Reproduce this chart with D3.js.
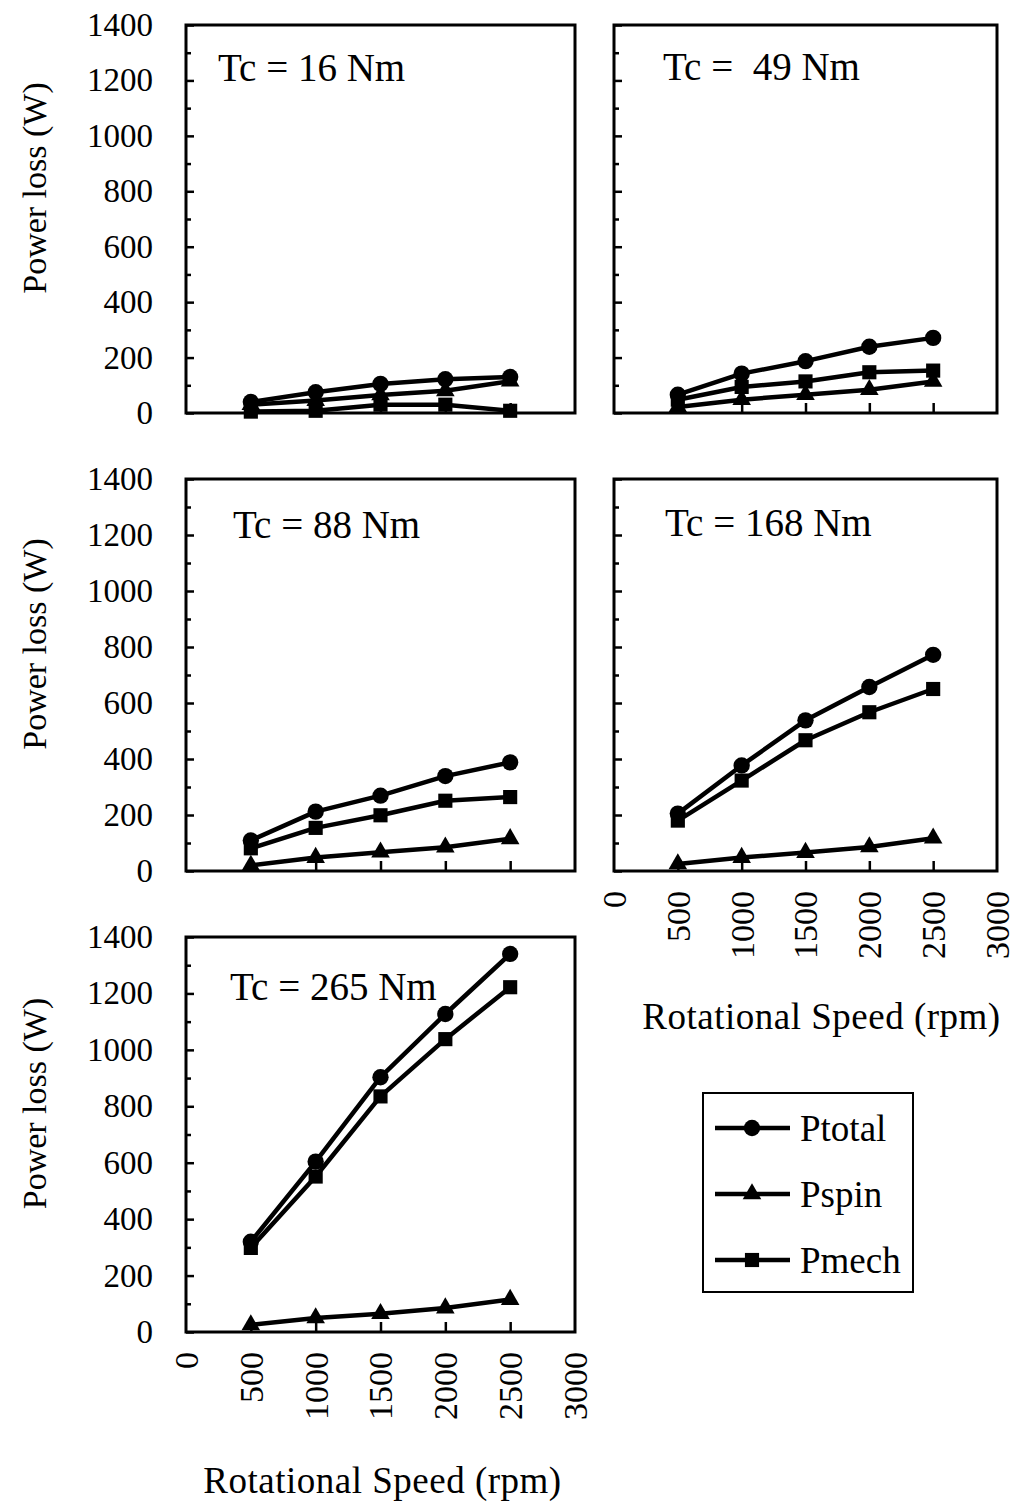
<!DOCTYPE html>
<html>
<head>
<meta charset="utf-8">
<script src="https://cdn.jsdelivr.net/npm/d3@7"></script>
<style>
  body { margin: 0; background: #fff; }
  svg { display: block; font-family: 'Liberation Serif', 'Times New Roman', serif; }
  .tc { white-space: pre; }
</style>
</head>
<body>
<div id="chart"></div>
<script>
// rotational speed (rpm) of each measured point
const speeds = [500, 1000, 1500, 2000, 2500];
// clamping torque of each panel
const torqueLabels = ['Tc = 16 Nm', 'Tc =  49 Nm', 'Tc = 88 Nm', 'Tc = 168 Nm', 'Tc = 265 Nm'];

// power loss (W), one row per panel
const pTotal = [
  [40, 75, 105, 122, 130],
  [66, 142, 187, 239, 271],
  [109, 212, 269, 339, 388],
  [205, 377, 538, 657, 772],
  [320, 604, 903, 1127, 1340]
];
const pSpin = [
  [30, 45, 65, 80, 115],
  [22, 48, 66, 84, 114],
  [20, 48, 67, 85, 115],
  [25, 48, 66, 86, 117],
  [25, 50, 65, 85, 115]
];
const pMech = [
  [5, 8, 30, 30, 8],
  [48, 94, 114, 147, 153],
  [81, 154, 199, 251, 264],
  [180, 323, 467, 567, 650],
  [298, 551, 835, 1038, 1222]
];

const seriesNames = ['Ptotal', 'Pspin', 'Pmech'];
const xTicks = [0, 500, 1000, 1500, 2000, 2500, 3000];
const yTicks = [0, 200, 400, 600, 800, 1000, 1200, 1400];
const yMinorTicks = [100, 300, 500, 700, 900, 1100, 1300];

const yTitle = 'Power loss (W)';
const xTitle = 'Rotational Speed (rpm)';

// panel layout
const panels = [
  { left: 186, right: 575, top: 25,  bottom: 413,  yLabels: true,  xLabels: false, tx: 32, ty: 56 },
  { left: 614, right: 997, top: 25,  bottom: 413,  yLabels: false, xLabels: false, tx: 49, ty: 55 },
  { left: 186, right: 575, top: 479, bottom: 871,  yLabels: true,  xLabels: false, tx: 47, ty: 59 },
  { left: 614, right: 997, top: 479, bottom: 871,  yLabels: false, xLabels: true,  tx: 51, ty: 57, titleDx: 16, titleY: 1029 },
  { left: 186, right: 575, top: 937, bottom: 1332, yLabels: true,  xLabels: true,  tx: 44, ty: 63, titleDx: 2, titleY: 1493 }
];

const symbols = {
  Ptotal: d3.symbol().type(d3.symbolCircle).size(210),
  Pspin: d3.symbol().type(d3.symbolTriangle).size(150),
  Pmech: d3.symbol().type(d3.symbolSquare).size(200)
};

const svg = d3.select('#chart')
  .append('svg')
    .attr('width', 1016)
    .attr('height', 1504);

function styleAxis(a) {
  a.attr('font-family', null).attr('font-size', null);
  a.select('.domain').remove();
  a.selectAll('line').attr('stroke', '#000').attr('stroke-width', 2.5);
  a.selectAll('text').attr('fill', '#000').attr('font-size', 33);
}

panels.forEach((p, i) => {
  const scaleX = d3.scaleLinear().domain([0, 3000]).range([p.left, p.right]);
  const scaleY = d3.scaleLinear().domain([0, 1400]).range([p.bottom, p.top]);
  const g = svg.append('g').attr('class', 'panel');

  // y axis: major + minor ticks pointing inward
  const yAxis = d3.axisLeft(scaleY)
    .tickValues(yTicks)
    .tickSize(-8)
    .tickPadding(33)
    .tickFormat(p.yLabels ? d3.format('d') : () => '');

  g.append('g')
      .attr('transform', `translate(${p.left}, 0)`)
      .call(yAxis)
      .call(styleAxis);

  g.append('g')
      .attr('transform', `translate(${p.left}, 0)`)
      .call(d3.axisLeft(scaleY).tickValues(yMinorTicks).tickSize(-5).tickFormat(() => ''))
      .call(styleAxis);

  // x axis: ticks pointing up, labels rotated
  const xAxis = d3.axisBottom(scaleX)
    .tickValues(xTicks.slice(1, -1))
    .tickSize(-10)
    .tickFormat(() => '');

  g.append('g')
      .attr('transform', `translate(0, ${p.bottom})`)
      .call(xAxis)
      .call(styleAxis);

  if (p.xLabels) {
    g.append('g')
      .selectAll('text')
      .data(xTicks)
      .join('text')
        .attr('transform', d => `translate(${scaleX(d)}, ${p.bottom + 20}) rotate(-90)`)
        .attr('text-anchor', 'end')
        .attr('dy', '0.35em')
        .attr('font-size', 34)
        .text(d => d);

    g.append('text')
      .attr('x', (p.left + p.right) / 2 + p.titleDx)
      .attr('y', p.titleY)
      .attr('text-anchor', 'middle')
      .attr('font-size', 37)
      .attr('letter-spacing', 0.5)
      .text(xTitle);
  }

  if (p.yLabels) {
    g.append('text')
      .attr('transform', `translate(46, ${(p.top + p.bottom) / 2 - 31}) rotate(-90)`)
      .attr('text-anchor', 'middle')
      .attr('font-size', 34)
      .text(yTitle);
  }

  // frame
  g.append('rect')
    .attr('x', p.left)
    .attr('y', p.top)
    .attr('width', p.right - p.left)
    .attr('height', p.bottom - p.top)
    .attr('fill', 'none')
    .attr('stroke', '#000')
    .attr('stroke-width', 3);

  g.append('text')
    .attr('class', 'tc')
    .attr('x', p.left + p.tx)
    .attr('y', p.top + p.ty)
    .attr('font-size', 39)
    .text(torqueLabels[i]);

  // series
  const seriesData = { Ptotal: pTotal[i], Pspin: pSpin[i], Pmech: pMech[i] };
  const line = d3.line()
    .x((d, j) => scaleX(speeds[j]))
    .y(d => scaleY(d));

  seriesNames.forEach(name => {
    const values = seriesData[name];

    g.append('path')
      .datum(values)
      .attr('d', line)
      .attr('fill', 'none')
      .attr('stroke', '#000')
      .attr('stroke-width', 4.5)
      .attr('stroke-linejoin', 'round');

    g.selectAll(`.marker-${name}`)
      .data(values)
      .join('path')
        .attr('class', `marker-${name}`)
        .attr('transform', (d, j) => `translate(${scaleX(speeds[j])}, ${scaleY(d)})`)
        .attr('d', symbols[name])
        .attr('fill', '#000');
  });
});

// legend
const legend = svg.append('g').attr('transform', 'translate(703, 1093)');

legend.append('rect')
  .attr('width', 210)
  .attr('height', 199)
  .attr('fill', '#fff')
  .attr('stroke', '#000')
  .attr('stroke-width', 2);

const legendItem = legend.selectAll('.legend-item')
  .data(seriesNames)
  .join('g')
    .attr('class', 'legend-item')
    .attr('transform', (d, i) => `translate(0, ${35 + i * 66})`);

legendItem.append('line')
  .attr('x1', 12)
  .attr('x2', 87)
  .attr('stroke', '#000')
  .attr('stroke-width', 4.5);

legendItem.append('path')
  .attr('transform', 'translate(49, 0)')
  .attr('d', d => symbols[d]());

legendItem.append('text')
  .attr('x', 97)
  .attr('dy', '0.35em')
  .attr('font-size', 37)
  .text(d => d);
</script>
</body>
</html>
